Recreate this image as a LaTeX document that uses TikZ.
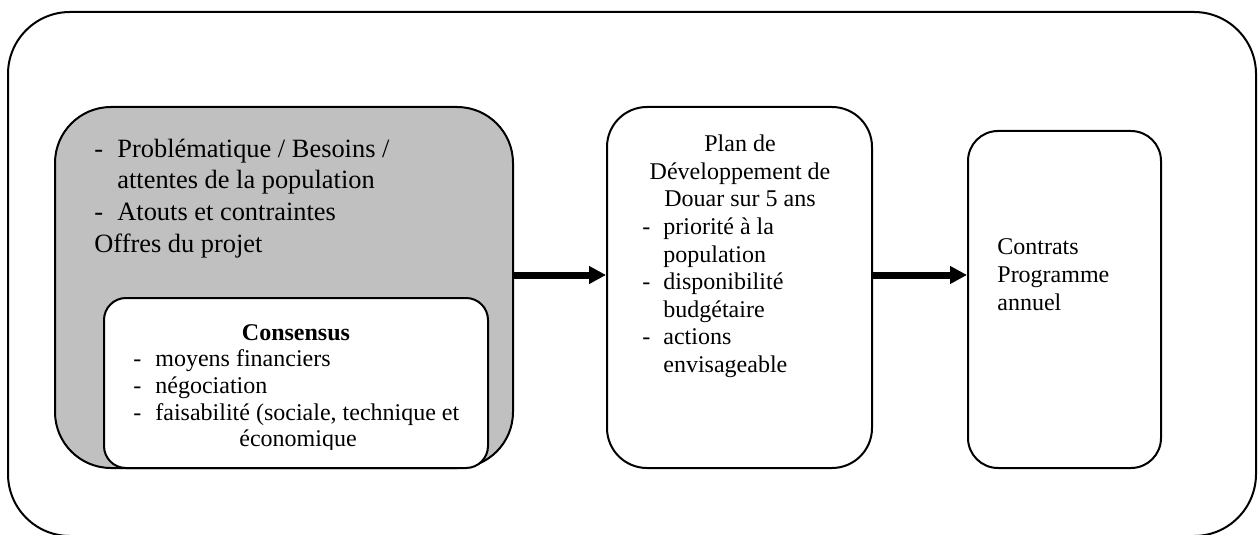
\documentclass[tikz,border=0pt]{standalone}
\usepackage{fontspec}
\setmainfont{Liberation Serif}
\usepackage{tikz}
\usetikzlibrary{arrows.meta}
\usetikzlibrary{positioning}
\definecolor{boxgray}{RGB}{192,192,192}
\tikzset{blok/.style={rectangle,draw=black,line width=1pt,fill=white,inner sep=0pt}}
\tikzset{txt/.style={anchor=base west,inner sep=0pt,font=\fontsize{12}{13.8}\selectfont}}
\tikzset{mid/.style={txt,anchor=base}}
\tikzset{bigtxt/.style={txt,font=\fontsize{13.2}{15.8}\selectfont}}
\tikzset{flow/.style={line width=3.5pt,-{Triangle[length=8.5pt,width=8.5pt]}}}

\begin{document}
\begin{tikzpicture}[x=0.5pt,y=-0.5pt]
\useasboundingbox (0,0) rectangle (1259,535);

\node[blok,rounded corners=31pt,minimum width=624pt,minimum height=262pt] (frame) at (632,274) {};

% left box
\node[blok,fill=boxgray,rounded corners=28pt,minimum width=229pt,minimum height=180.5pt] (need) at (284,287.5) {};
\node[blok,rounded corners=11pt,minimum width=192pt,minimum height=85pt] (cons) at (296,383) {};

\node[bigtxt] (n1) at (94,157.5) {\makebox[11.5pt][l]{-}Problématique / Besoins /};
\node[bigtxt] (n2) at (117,189) {attentes de la population};
\node[bigtxt] (n3) at (94,220.5) {\makebox[11.5pt][l]{-}Atouts et contraintes};
\node[bigtxt] (n4) at (94,252) {Offres du projet};

\node[mid,font=\fontsize{12}{13.8}\selectfont\bfseries] (c0) at (296,340) {Consensus};
\node[txt] (c1) at (133,366.7) {\makebox[11pt][l]{-}moyens financiers};
\node[txt] (c2) at (133,393.3) {\makebox[11pt][l]{-}négociation};
\node[txt] (c3) at (133,420) {\makebox[11pt][l]{-}faisabilité (sociale, technique et};
\begin{scope}
\clip (100,290) rectangle (490,449);
\node[mid] (c4) at (298,446.7) {économique};
\end{scope}

% next box
\node[blok,rounded corners=20pt,minimum width=132.5pt,minimum height=180.5pt] (plan) at (739.5,287.5) {};

\node[mid] (p0) at (740,151.7) {Plan de};
\node[mid] (p1) at (740,179.3) {Développement de};
\node[mid] (p2) at (740,206.9) {Douar sur 5 ans};
\node[txt] (p3) at (642,234.5) {\makebox[10.5pt][l]{-}priorité à la};
\node[txt] (p4) at (663,262.1) {population};
\node[txt] (p5) at (642,289.7) {\makebox[10.5pt][l]{-}disponibilité};
\node[txt] (p6) at (663,317.3) {budgétaire};
\node[txt] (p7) at (642,344.9) {\makebox[10.5pt][l]{-}actions};
\node[txt] (p8) at (663,372.5) {envisageable};

% last box
\node[blok,rounded corners=15pt,minimum width=96.5pt,minimum height=168.5pt] (deal) at (1064.5,299.5) {};

\node[txt] (d1) at (997,255) {Contrats};
\node[txt] (d2) at (997,282.5) {Programme};
\node[txt] (d3) at (997,310) {annuel};

\coordinate (lvl) at (0,275);
\draw[flow] (need.east |- lvl) -- (plan.west |- lvl);
\draw[flow] (plan.east |- lvl) -- (deal.west |- lvl);

\end{tikzpicture}
\end{document}
